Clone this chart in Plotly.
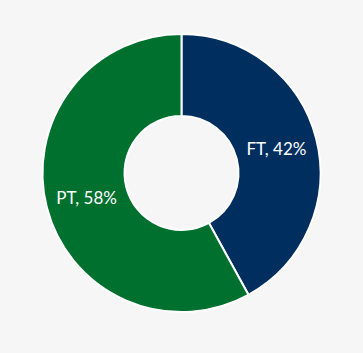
import plotly.graph_objects as go

labels = ["FT", "PT"]
values = [42, 58]
colors = ["#002F5F", "#00702E"]

fig = go.Figure(go.Pie(
    labels=labels,
    values=values,
    hole=0.41,
    sort=False,
    direction="clockwise",
    rotation=0,
    marker=dict(colors=colors, line=dict(color="#ffffff", width=2)),
    texttemplate="%{label}, %{percent:.0%}",
    textposition="inside",
    insidetextorientation="horizontal",
    textfont=dict(family="Lato", size=17, color="#ffffff"),
    showlegend=False,
    hoverinfo="label+percent",
))

fig.update_layout(
    width=363,
    height=353,
    margin=dict(l=42, r=42, t=34, b=41),
    paper_bgcolor="#f6f6f6",
    plot_bgcolor="#f6f6f6",
    uniformtext=dict(minsize=17, mode="show"),
)

fig.write_html("out.html")
